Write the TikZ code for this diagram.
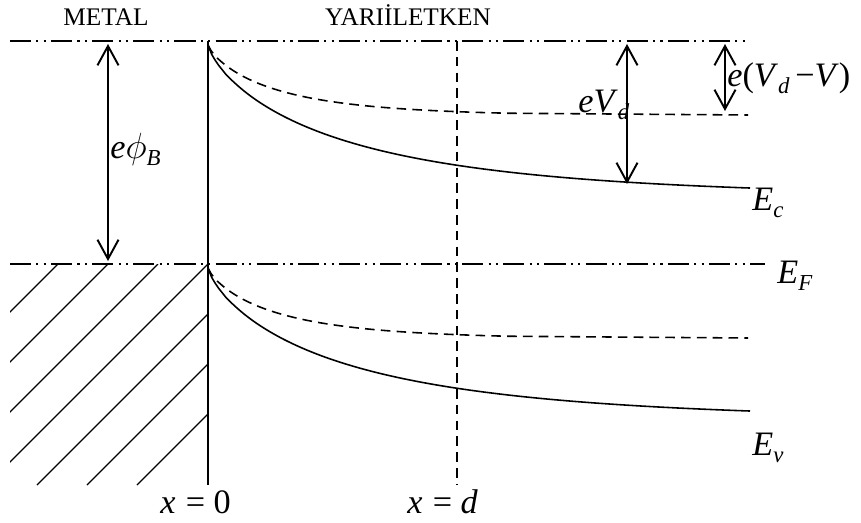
\documentclass[tikz,border=0pt]{standalone}
\usepackage{fontspec}
\setmainfont{Liberation Serif}
\usetikzlibrary{arrows.meta}
\newcommand{\lsub}[1]{\raisebox{-4.5pt}{\fontsize{13}{13}\selectfont\itshape #1}}

\begin{document}
\begin{tikzpicture}[x=0.02cm,y=-0.02cm,
        dashdot/.style={line width=1.2pt,dash pattern=on 12pt off 3pt on 1.2pt off 3pt on 1.2pt off 3pt},
        hidden/.style={line width=0.9pt,dash pattern=on 5.5pt off 3.5pt},
        band/.style={line width=0.9pt},
        dimarrow/.style={line width=1.1pt,{Straight Barb[length=11pt,width=12pt]}-{Straight Barb[length=11pt,width=12pt]}},
        lbl/.style={font=\fontsize{19.5}{22}\selectfont,inner sep=0pt,anchor=base west},
        head/.style={font=\fontsize{14.4}{16}\selectfont,inner sep=0pt,anchor=base}]
        \useasboundingbox (0,0) rectangle (861,522);
        \coordinate (vac0) at (10,41); \coordinate (vac1) at (750,41);
        \coordinate (ef0) at (10,264); \coordinate (ef1) at (765,264);
        \coordinate (iftop) at (208,41); \coordinate (ifbot) at (208,485);
        \coordinate (dtop) at (457,41); \coordinate (dbot) at (457,485);
        \begin{scope}
            \clip (10,264) rectangle (208,485);
            \foreach \c in {322,372,...,622}
                \draw[line width=0.7pt] ({\c-264},264)--({\c-485},485);
        \end{scope}
        \draw[dashdot] (vac0)--(vac1);
        \draw[dashdot] (ef0)--(ef1);
        \draw[line width=1.1pt] (iftop)--(ifbot);
        \draw[hidden] (dtop)--(dbot);
        \draw[band] plot[domain=0.01:542,samples=150] ({208+\x},{45+152*(1-exp(-(\x/138)^0.76))});
        \draw[band] plot[domain=0.01:542,samples=150] ({208+\x},{268+152*(1-exp(-(\x/138)^0.76))});
        \draw[hidden] plot[domain=0.01:300,samples=100] ({208+\x},{45+71*(1-exp(-(\x/69)^0.8))}) -- (748,115);
        \draw[hidden] plot[domain=0.01:300,samples=100] ({208+\x},{268+71*(1-exp(-(\x/69)^0.8))}) -- (748,338);
        \coordinate (phitop) at (108,44); \coordinate (phibot) at (108,261);
        \coordinate (vdtop) at (627,44); \coordinate (vdbot) at (627,184);
        \coordinate (vvtop) at (725,44); \coordinate (vvbot) at (725,111);
        \draw[dimarrow] (phitop)--(phibot);
        \draw[dimarrow] (vdtop)--(vdbot);
        \draw[dimarrow] (vvtop)--(vvbot);
        \node[head] (metal) at (106,25) {METAL};
        \node[head] (semi) at (408,25) {YARIİLETKEN};
        \node[lbl] (phib) at (110,158) {\textit{e}$\phi$\lsub{B}};
        \node[lbl] (vd) at (578,112) {\textit{eV}\lsub{d}};
        \node[lbl] (vdv) at (727,86) {\textit{e}(\textit{V}\lsub{d}\,−\textit{V})};
        \node[lbl] (ec) at (752,210) {\textit{E}\lsub{c}};
        \node[lbl] (efl) at (777,283) {\textit{E}\lsub{F}};
        \node[lbl] (ev) at (752,455) {\textit{E}\lsub{v}};
        \node[lbl] (xzero) at (160,513) {\textit{x}\hspace{0.3em}=\hspace{0.25em}0};
        \node[lbl] (xd) at (407,513) {\textit{x}\hspace{0.3em}=\hspace{0.25em}\textit{d}};
    \end{tikzpicture}
\end{document}
